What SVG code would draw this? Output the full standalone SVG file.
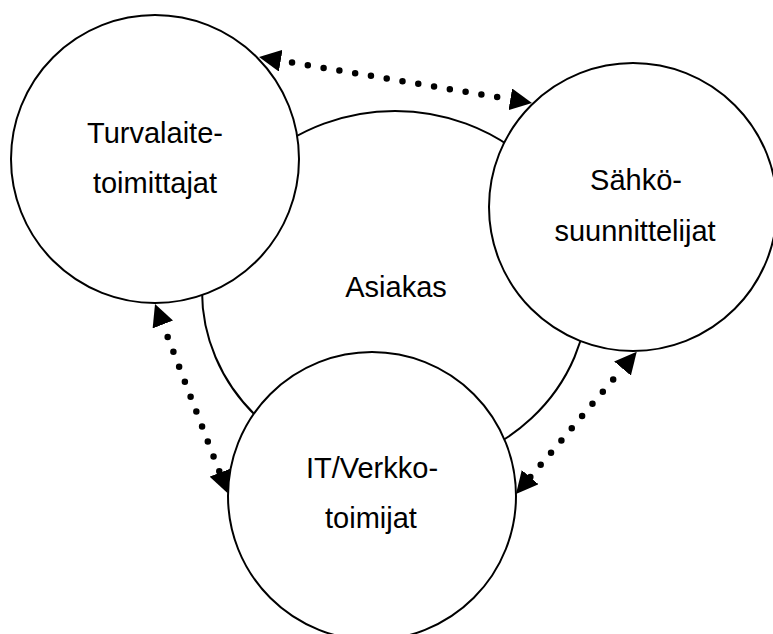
<svg xmlns="http://www.w3.org/2000/svg" width="773" height="634" viewBox="0 0 773 634">
<style>
.node{fill:#fff;stroke:#000;stroke-width:2}
.lbl{font-family:"Liberation Sans",Arial,sans-serif;font-size:29px;fill:#000;text-anchor:middle}
.dots{stroke:#000;stroke-width:6.5;stroke-linecap:round;stroke-dasharray:0 16;fill:none;marker-start:url(#ah);marker-end:url(#ah)}
</style>
<defs>
<marker id="ah" markerUnits="userSpaceOnUse" markerWidth="22" markerHeight="22" viewBox="0 0 22 22" refX="0" refY="11" orient="auto-start-reverse"><path d="M0,0L22,11L0,22z" fill="#000"/></marker>
</defs>
<rect width="773" height="634" fill="#fff"/>
<g id="asiakas">
<ellipse class="node" cx="395" cy="291" rx="193" ry="180"/>
<text class="lbl" x="396" y="297">Asiakas</text>
</g>
<g id="turvalaitetoimittajat">
<circle class="node" cx="155" cy="159" r="144"/>
<text class="lbl" x="155" y="143">Turvalaite-</text>
<text class="lbl" x="155" y="193">toimittajat</text>
</g>
<g id="sahkosuunnittelijat">
<circle class="node" cx="633" cy="207" r="144"/>
<text class="lbl" x="636" y="190">Sähkö-</text>
<text class="lbl" x="635" y="241">suunnittelijat</text>
</g>
<g id="itverkkotoimijat">
<circle class="node" cx="372" cy="496" r="144"/>
<text class="lbl" x="372" y="478">IT/Verkko-</text>
<text class="lbl" x="371" y="528">toimijat</text>
</g>
<g id="connectors">
<line class="dots" x1="280.7" y1="60.7" x2="510.3" y2="99.3" stroke-dashoffset="-11.5"/>
<line class="dots" x1="162.9" y1="324.5" x2="219.8" y2="472.7" stroke-dashoffset="-13.3"/>
<line class="dots" x1="622.5" y1="368.5" x2="530.2" y2="477.2" stroke-dashoffset="-14.4"/>
</g>
</svg>
